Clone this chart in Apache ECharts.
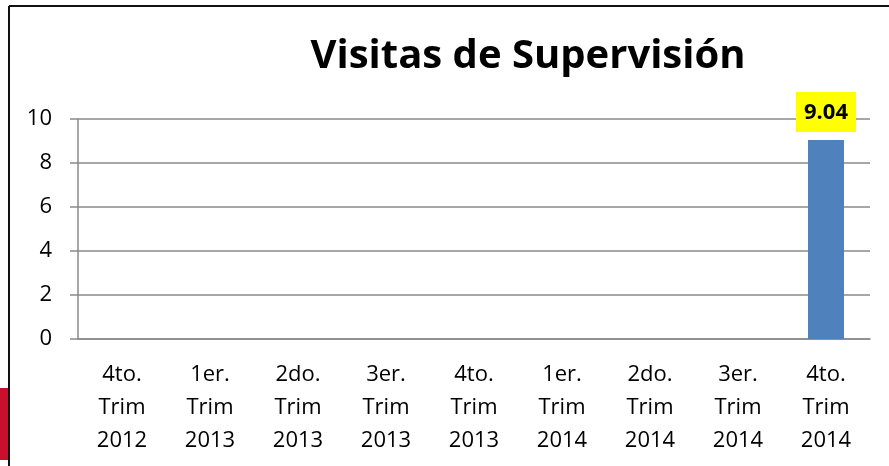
<!DOCTYPE html>
<html>
<head>
<meta charset="utf-8">
<script src="https://cdn.jsdelivr.net/npm/echarts@6/dist/echarts.min.js"></script>
<style>
	html, body { margin: 0; padding: 0; background: #fff; }
	#chart { width: 889px; height: 466px; }
</style>
</head>
<body>
<div id="chart"></div>
<script>
	// categorias (trimestres) y valores
	var categories = ['4to.\nTrim\n2012', '1er.\nTrim\n2013', '2do.\nTrim\n2013', '3er.\nTrim\n2013', '4to.\nTrim\n2013', '1er.\nTrim\n2014', '2do.\nTrim\n2014', '3er.\nTrim\n2014', '4to.\nTrim\n2014']
	var visitas = [null, null, null, null, null, null, null, null, 9.04]
	var titleText = 'Visitas de Supervisión'

	var font = '"Open Sans", "Noto Sans", sans-serif'
	var gris = '#8a8a8a'
	var chart = echarts.init(document.getElementById('chart'))

	var option = {
		animation: false,
		title: {
			text: titleText,
			left: 523,
			top: 32,
			textAlign: 'center',
			textStyle: {
				fontFamily: font,
				fontWeight: 'bold',
				fontSize: 40,
				color: '#000'
			}
		},
		graphic: [
			{ type: 'line', shape: { x1: 9, y1: 6, x2: 889, y2: 6 }, style: { stroke: '#111', lineWidth: 2 } },
			{ type: 'line', shape: { x1: 9, y1: 6, x2: 9, y2: 466 }, style: { stroke: '#111', lineWidth: 2 } },
			{ type: 'rect', shape: { x: 0, y: 388, width: 8, height: 72 }, style: { fill: '#c8102e' } }
		],
		grid: {
			left: 78,
			right: 19,
			top: 119,
			bottom: 127
		},
		xAxis: {
			type: 'category',
			data: categories,
			axisLine: { lineStyle: { color: gris, width: 1.5 } },
			axisTick: { length: 8, lineStyle: { color: gris, width: 1.5 } },
			axisLabel: {
				fontFamily: font,
				fontSize: 22,
				color: '#000',
				lineHeight: 33,
				margin: 19,
				interval: 0
			}
		},
		yAxis: {
			type: 'value',
			min: 0,
			max: 10,
			interval: 2,
			axisLine: { show: true, lineStyle: { color: gris, width: 1.5 } },
			axisTick: { show: true, length: 8, lineStyle: { color: gris, width: 1.5 } },
			splitLine: { lineStyle: { color: gris, width: 1.5 } },
			axisLabel: {
				fontFamily: font,
				fontSize: 22,
				color: '#000',
				margin: 26
			}
		},
		series: [{
			type: 'bar',
			data: visitas,
			barWidth: 36,
			itemStyle: { color: '#4f81bd' },
			label: {
				show: true,
				position: 'top',
				distance: 8,
				fontFamily: font,
				fontWeight: 'bold',
				fontSize: 22,
				color: '#000',
				backgroundColor: '#ffff00',
				padding: [10, 8, 8, 8]
			}
		}]
	}
	chart.setOption(option)
</script>
</body>
</html>
